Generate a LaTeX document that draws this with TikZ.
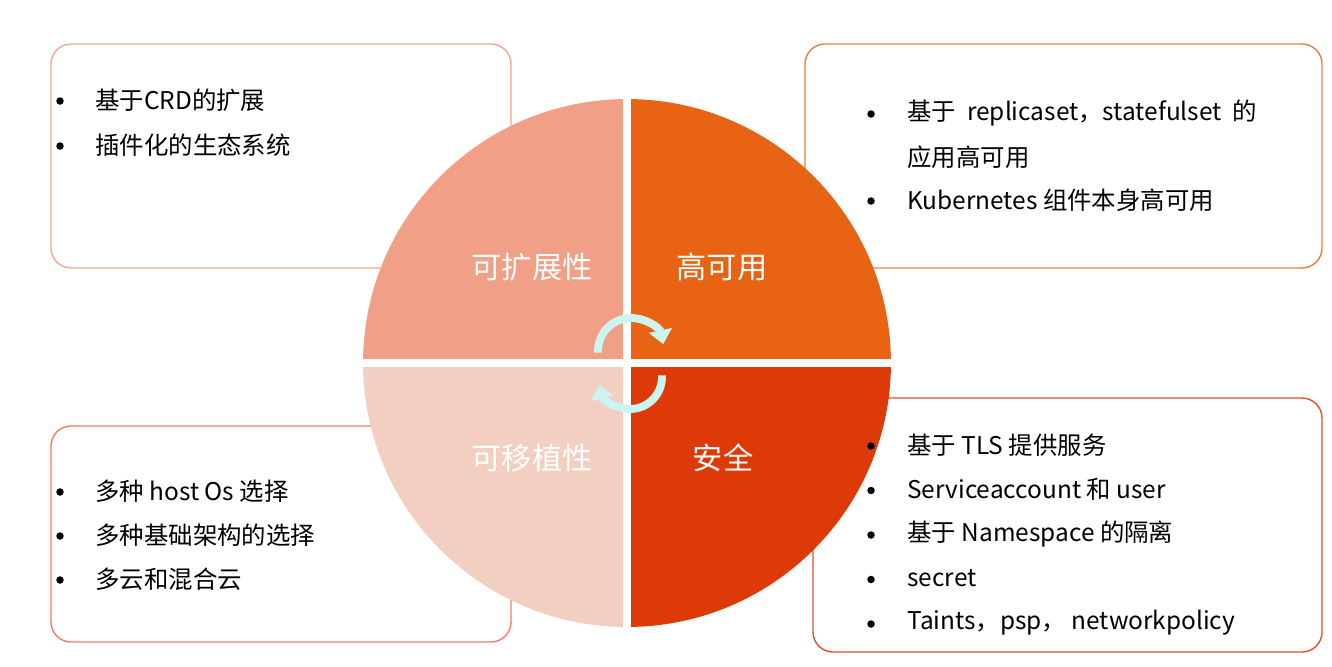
\documentclass[tikz,border=0pt]{standalone}
\usepackage{fontspec}
\setmainfont{Noto Sans CJK SC}
\usetikzlibrary{positioning, arrows.meta}

\definecolor{scalefill}{HTML}{F19F87}
\definecolor{availfill}{HTML}{E96314}
\definecolor{portfill}{HTML}{F3CFC2}
\definecolor{securefill}{HTML}{DD3A07}
\definecolor{scaleline}{HTML}{F4A791}
\definecolor{availline}{HTML}{EE7D45}
\definecolor{portline}{HTML}{F27C66}
\definecolor{secureline}{HTML}{E4502A}
\definecolor{cyclecol}{HTML}{CBF5F1}

\begin{document}
\begin{tikzpicture}[
    x=0.02cm, y=-0.02cm,
    font=\fontsize{13.9}{16}\selectfont,
    box/.style={rounded corners=0.4cm, line width=0.8pt, fill=white},
    item/.style={anchor=west, inner sep=0pt},
    bullet/.style={circle, fill=black, inner sep=0pt, minimum size=0.15cm},
    quadlabel/.style={text=white, font=\fontsize{17.2}{20}\selectfont},
    cyclearrow/.style={draw=cyclecol, line width=4.5pt, -{Triangle[length=8pt, width=13pt]}}
]
\useasboundingbox (0,0) rectangle (1332,666);

% Radius of the wheel
\def\rad{5.28cm}

% Text boxes behind the wheel
\draw[box, draw=scaleline] (51,44) rectangle (511,268);
\draw[box, draw=availline] (805,44) rectangle (1322,268);
\draw[box, draw=portline] (51,426) rectangle (511,642);
\draw[box, draw=secureline] (813,398) rectangle (1322,652);

% The four quarters
\coordinate (hub) at (627,363);
\fill[scalefill] (hub) -- ++(180:\rad) arc[start angle=180, end angle=90, radius=\rad] -- cycle;
\fill[availfill] (hub) -- ++(90:\rad) arc[start angle=90, end angle=0, radius=\rad] -- cycle;
\fill[portfill] (hub) -- ++(180:\rad) arc[start angle=180, end angle=270, radius=\rad] -- cycle;
\fill[securefill] (hub) -- ++(270:\rad) arc[start angle=270, end angle=360, radius=\rad] -- cycle;

% White gaps between the quarters
\draw[white, line width=4.5pt] (hub) ++(-5.4cm,0) -- ++(10.8cm,0);
\draw[white, line width=4.5pt] (hub) ++(0,-5.4cm) -- ++(0,10.8cm);

% Quarter labels
\node[quadlabel] (scale) at (532,267) {可扩展性};
\node[quadlabel] (avail) at (722,267) {高可用};
\node[quadlabel] (port) at (532,458) {可移植性};
\node[quadlabel] (secure) at (723,458) {安全};

% Cycle arrows in the middle
\draw[cyclearrow] (631,351) ++(183:0.66cm) arc[start angle=183, end angle=12, radius=0.66cm];
\draw[cyclearrow] (630,377) ++(3:0.64cm) arc[start angle=3, end angle=-166, radius=0.64cm];

% Items of the top left box
\foreach \t [count=\i] in {基于CRD的扩展, 插件化的生态系统} {
    \node[bullet] (scaledot\i) at (60,{101+45*(\i-1)}) {};
    \node[item] (scaleitem\i) at (95,{100+45*(\i-1)}) {\t};
}

% Items of the top right box
\node[bullet] (availdot1) at (871,114) {};
\node[item] (availitem1) at (907,113) {基于\ \ replicaset，statefulset\ \ 的};
\node[item] (availitem2) at (907,157) {应用高可用};
\node[bullet] (availdot2) at (871,201) {};
\node[item] (availitem3) at (907,200) {Kubernetes 组件本身高可用};

% Items of the bottom left box
\foreach \t [count=\i] in {多种 host Os 选择, 多种基础架构的选择, 多云和混合云} {
    \node[bullet] (portdot\i) at (60,{492+44*(\i-1)}) {};
    \node[item] (portitem\i) at (95,{491+44*(\i-1)}) {\t};
}

% Items of the bottom right box
\foreach \t [count=\i] in {基于 TLS 提供服务, Serviceaccount 和 user, 基于 Namespace 的隔离, secret, Taints，psp，\ networkpolicy} {
    \node[bullet] (securedot\i) at (871,{446+44.5*(\i-1)}) {};
    \node[item] (secureitem\i) at (907,{445+44.5*(\i-1)}) {\t};
}

\end{tikzpicture}
\end{document}
